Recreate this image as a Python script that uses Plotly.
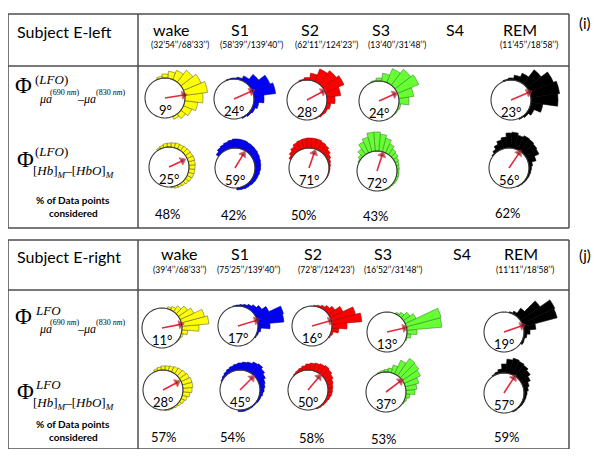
import plotly.graph_objects as go

# page body has an 8px margin, so the figure is drawn 8px in from the window edge
PAGE_W, PAGE_H = 601, 457
PAD = 8
W, H = PAGE_W - 2 * PAD, PAGE_H - 2 * PAD

# ---- data -------------------------------------------------------------
stages = ["wake", "S1", "S2", "S3", "S4", "REM"]
durations_left = ["(32’54’’/68’33’’)", "(58’39’’/139’40’’)", "(62’11’’/124’23’’)",
                  "(13’40’’/31’48’’)", "", "(11’45’’/18’58’’)"]
durations_right = ["(39’4’’/68’33’’)", "(75’25’’/139’40’’)", "(72’8’’/124’23’)",
                   "(16’52’’/31’48’’)", "", "(11’11’’/18’58’’)"]

plot_stages = ["wake", "S1", "S2", "S3", "REM"]   # S4 has no data
stage_colors = ["#ffff00", "#0000ff", "#ff0000", "#66ff33", "#000000"]
edge_colors = ["#6a6a40", "#00008b", "#a00000", "#3d8a2a", "#000000"]

# bin centres (deg, counter-clockwise from east)
theta_15 = [-60, -45, -30, -15, 0, 15, 30, 45, 60, 75, 90, 105]
theta_10 = [-90, -80, -70, -60, -50, -40, -30, -20, -10, 0, 10, 20, 30,
            40, 50, 60, 70, 80, 90, 100, 110, 120, 130, 140, 150]

# bar length outside the unit circle
left_mua_wake = [0.15, 0.3, 0.45, 0.65, 0.9, 1.15, 0.95, 0.75, 0.5, 0.35, 0.2, 0.1]
left_mua_s1 = [0.05, 0.1, 0.15, 0.25, 0.5, 1.1, 0.95, 0.55, 0.25, 0.1, 0.05, 0.03]
left_mua_s2 = [0.03, 0.08, 0.12, 0.2, 0.4, 0.7, 1.0, 0.85, 0.68, 0.35, 0.12, 0.05]
left_mua_s3 = [0.0, 0.02, 0.05, 0.1, 0.5, 0.75, 1.15, 1.0, 0.75, 0.4, 0.15, 0.05]
left_mua_rem = [0.05, 0.1, 0.25, 0.6, 1.35, 1.45, 1.3, 0.9, 0.45, 0.25, 0.1, 0.05]

left_hb_wake = [0, 0.05, 0.1, 0.12, 0.15, 0.2, 0.25, 0.28, 0.3, 0.3, 0.32, 0.33, 0.3,
                0.3, 0.28, 0.25, 0.25, 0.22, 0.2, 0.18, 0.12, 0.08, 0, 0, 0]
left_hb_s1 = [0, 0.1, 0.12, 0.15, 0.15, 0.18, 0.2, 0.22, 0.25, 0.28, 0.3, 0.32, 0.35,
              0.38, 0.4, 0.42, 0.45, 0.45, 0.45, 0.4, 0.35, 0.3, 0.25, 0.15, 0]
left_hb_s2 = [0, 0, 0, 0, 0, 0, 0.02, 0.03, 0.04, 0.05, 0.08, 0.12, 0.2,
              0.3, 0.4, 0.45, 0.5, 0.5, 0.5, 0.48, 0.45, 0.4, 0.3, 0.2, 0.1]
left_hb_s3 = [0, 0, 0.03, 0.05, 0.05, 0.06, 0.08, 0.1, 0.1, 0.1, 0.12, 0.15, 0.2,
              0.28, 0.35, 0.5, 0.7, 0.85, 0.95, 0.95, 0.75, 0.6, 0.35, 0.15, 0.05]
left_hb_rem = [0, 0, 0, 0.03, 0.04, 0.05, 0.06, 0.08, 0.1, 0.12, 0.18, 0.4, 0.65,
               0.7, 0.75, 0.78, 0.7, 0.8, 0.75, 0.55, 0.45, 0.3, 0.15, 0.05, 0]

right_mua_wake = [0, 0, 0, 0, 0, 0.03, 0.05, 0.1, 0.3, 0.85, 1.35, 1.2, 0.75,
                  0.55, 0.35, 0.2, 0.1, 0, 0, 0, 0, 0, 0, 0, 0]
right_mua_s1 = [0, 0, 0, 0, 0, 0, 0.05, 0.08, 0.15, 0.6, 1.3, 1.35, 0.7,
                0.45, 0.3, 0.2, 0.12, 0.08, 0.05, 0.03, 0, 0, 0, 0, 0]
right_mua_s2 = [0, 0, 0, 0, 0, 0, 0.05, 0.1, 0.35, 0.75, 1.5, 1.25, 0.7,
                0.4, 0.25, 0.15, 0.08, 0.04, 0, 0, 0, 0, 0, 0, 0]
right_mua_s3 = [0, 0, 0, 0, 0, 0, 0, 0.05, 0.2, 0.5, 1.75, 1.8, 0.6,
                0.4, 0.2, 0.08, 0, 0, 0, 0, 0, 0, 0, 0, 0]
right_mua_rem = [0, 0, 0, 0, 0, 0, 0.1, 0.08, 0.15, 0.3, 0.6, 1.75, 1.8,
                 1.2, 0.45, 0.15, 0.05, 0, 0, 0, 0, 0, 0, 0, 0]

right_hb_wake = [0, 0.04, 0.05, 0.05, 0.08, 0.12, 0.18, 0.25, 0.35, 0.45, 0.5, 0.5, 0.45,
                 0.4, 0.35, 0.3, 0.25, 0.22, 0.2, 0.15, 0.1, 0, 0, 0, 0]
right_hb_s1 = [0.08, 0.08, 0.06, 0.05, 0.05, 0.05, 0.08, 0.1, 0.15, 0.2, 0.25, 0.3, 0.4,
               0.5, 0.6, 0.55, 0.45, 0.4, 0.35, 0.3, 0.25, 0.2, 0.15, 0.1, 0.05]
right_hb_s2 = [0, 0, 0, 0.05, 0.06, 0.08, 0.1, 0.15, 0.2, 0.22, 0.25, 0.3, 0.38,
               0.45, 0.5, 0.45, 0.4, 0.35, 0.3, 0.22, 0.15, 0.1, 0.05, 0, 0]
right_hb_s3 = [0, 0, 0, 0, 0, 0, 0.05, 0.1, 0.2, 0.45, 0.55, 0.7, 0.9,
               1.0, 1.05, 0.75, 0.4, 0.2, 0.12, 0.08, 0.05, 0, 0, 0, 0]
right_hb_rem = [0, 0, 0, 0.05, 0.05, 0.06, 0.08, 0.1, 0.12, 0.15, 0.22, 0.3, 0.45,
                0.6, 0.7, 0.75, 0.8, 0.7, 0.45, 0.2, 0.1, 0.05, 0, 0, 0]

# mean phase angle (deg) and resultant length
left_mua_angle = [9, 24, 28, 24, 23]
left_hb_angle = [25, 59, 71, 72, 56]
right_mua_angle = [11, 17, 16, 13, 19]
right_hb_angle = [28, 45, 50, 37, 57]
left_mua_len = [0.95, 0.95, 0.9, 0.85, 0.95]
left_hb_len = [0.75, 0.8, 0.8, 0.85, 0.9]
right_mua_len = [0.95, 0.95, 0.95, 0.9, 0.95]
right_hb_len = [0.8, 0.85, 0.85, 0.9, 0.9]

left_percent = [48, 42, 50, 43, 62]
right_percent = [57, 54, 58, 53, 59]

# ---- layout helpers ----------------------------------------------------
SANS = "Lato, Open Sans, sans-serif"
SERIF = "Liberation Serif, Times New Roman, serif"
R_PX = 20        # radius of unit circle in pixels


def px(x):
    # window pixel -> paper fraction
    return (x - PAD) / W


def py(y):
    return 1 - (y - PAD) / H


fig = go.Figure()
annotations = []
shapes = []


def text(x, y, s, size=12, family=SANS, color="black", xanchor="center"):
    annotations.append(dict(x=px(x), y=py(y), xref="paper", yref="paper", text=s,
                            showarrow=False, xanchor=xanchor, yanchor="middle",
                            font=dict(size=size, family=family, color=color)))


def hline(x0, x1, y):
    shapes.append(dict(type="line", xref="paper", yref="paper", x0=px(x0), x1=px(x1),
                       y0=py(y), y1=py(y), line=dict(color="#4d4d4d", width=1.5)))


def vline(x, y0, y1):
    shapes.append(dict(type="line", xref="paper", yref="paper", x0=px(x), x1=px(x),
                       y0=py(y0), y1=py(y1), line=dict(color="#4d4d4d", width=1.5)))


rows = [
    (theta_15, 15, [left_mua_wake, left_mua_s1, left_mua_s2, left_mua_s3, left_mua_rem],
     left_mua_angle, left_mua_len, 2.9,
     [(165, 98), (234, 99), (307, 100), (379, 101), (511, 100)]),
    (theta_10, 10, [left_hb_wake, left_hb_s1, left_hb_s2, left_hb_s3, left_hb_rem],
     left_hb_angle, left_hb_len, 2.9,
     [(169, 167), (235, 168), (309, 168), (377, 171), (509, 168)]),
    (theta_10, 10, [right_mua_wake, right_mua_s1, right_mua_s2, right_mua_s3, right_mua_rem],
     right_mua_angle, right_mua_len, 2.9,
     [(162, 328), (238, 326), (312, 326), (387, 332), (504, 332)]),
    (theta_10, 10, [right_hb_wake, right_hb_s1, right_hb_s2, right_hb_s3, right_hb_rem],
     right_hb_angle, right_hb_len, 2.2,
     [(163, 390), (240, 390), (308, 390), (386, 392), (504, 393)]),
]

circle_theta = list(range(0, 361, 5))
k = 0
for theta, width, bars, angles, lengths, r_max, centers in rows:
    half = r_max * R_PX
    for i, stage in enumerate(plot_stages):
        k += 1
        name = "polar" if k == 1 else f"polar{k}"
        cx, cy = centers[i]
        fig.add_trace(go.Barpolar(
            theta=theta, r=bars[i], base=1, width=width,
            marker=dict(color=stage_colors[i], line=dict(color=edge_colors[i], width=0.6)),
            subplot=name, showlegend=False, hoverinfo="skip",
        ))
        fig.add_trace(go.Scatterpolar(
            theta=circle_theta, r=[1] * len(circle_theta), mode="lines",
            line=dict(color="#3a3a3a", width=1.1), subplot=name,
            showlegend=False, hoverinfo="skip",
        ))
        fig.add_trace(go.Scatterpolar(
            theta=[angles[i], angles[i]], r=[0, lengths[i]], mode="lines+markers",
            line=dict(color="#e8283c", width=1.6),
            marker=dict(symbol="triangle-up", size=[0, 7], color="#6b0f1a",
                        angleref="previous"),
            subplot=name, showlegend=False, hoverinfo="skip",
        ))
        fig.layout[name] = dict(
            domain=dict(x=[px(cx - half), px(cx + half)], y=[py(cy + half), py(cy - half)]),
            bgcolor="rgba(0,0,0,0)",
            radialaxis=dict(range=[0, r_max], visible=False),
            angularaxis=dict(visible=False, rotation=0, direction="counterclockwise"),
        )
        text(cx, cy + 12, f"{angles[i]}°", size=13)

# ---- tables --------------------------------------------------------------
for top, sep, bottom in [(14, 66, 228), (240, 290, 449)]:
    hline(8, 569, top)
    hline(8, 569, sep)
    hline(8, 569, bottom)
    vline(8, top, bottom)
    vline(138, top, bottom)
    vline(569, top, bottom)

text(15, 31, "Subject E-left", size=16, xanchor="left")
text(15, 256, "Subject E-right", size=16, xanchor="left")
text(585, 23, "(i)", size=15)
text(585, 255, "(j)", size=15)

title_x_left = [171, 240, 310, 381, 455, 520]
sub_x_left = [180, 251, 326, 397, 455, 529]
title_x_right = [179, 240, 313, 383, 462, 521]
sub_x_right = [179, 248, 326, 393, 462, 525]
for j, st in enumerate(stages):
    text(title_x_left[j], 30, st, size=16)
    text(title_x_right[j], 254, st, size=16)
    if durations_left[j]:
        text(sub_x_left[j], 45, durations_left[j], size=8.5)
    if durations_right[j]:
        text(sub_x_right[j], 270, durations_right[j], size=8.5)


# row labels
def mua_label(y, sup):
    text(13, y, "Φ", size=23, family=SERIF, xanchor="left")
    text(33, y - 6, sup, size=13, family=SERIF, xanchor="left")
    text(37, y + 13, "<i>μa</i>", size=12, family=SERIF, xanchor="left")
    text(48, y + 6, "(690 <i>nm</i>)", size=8, family=SERIF, xanchor="left")
    text(75, y + 13, "–<i>μa</i>", size=12, family=SERIF, xanchor="left")
    text(94, y + 6, "(830 <i>nm</i>)", size=8, family=SERIF, xanchor="left")


def hb_label(y, sup):
    text(15, y, "Φ", size=23, family=SERIF, xanchor="left")
    text(33, y - 7, sup, size=13, family=SERIF, xanchor="left")
    text(31, y + 12, "[<i>Hb</i>]<sub><i>M</i></sub>–[<i>HbO</i>]<sub><i>M</i></sub>",
         size=13, family=SERIF, xanchor="left")


mua_label(86, "(<i>LFO</i>)")
hb_label(159, "(<i>LFO</i>)")
mua_label(316, "<i>LFO</i>")
hb_label(391, "<i>LFO</i>")

for y0 in [200, 424]:
    text(73, y0, "<b>% of Data points</b>", size=10)
    text(73, y0 + 13, "<b>considered</b>", size=10)

pct_left_pos = [(168, 214), (234, 215), (304, 215), (376, 216), (508, 213)]
pct_right_pos = [(164, 437), (233, 437), (312, 438), (384, 439), (507, 437)]
for i in range(5):
    text(*pct_left_pos[i], f"{left_percent[i]}%", size=13)
    text(*pct_right_pos[i], f"{right_percent[i]}%", size=13)

fig.update_layout(
    width=W, height=H, margin=dict(l=0, r=0, t=0, b=0),
    paper_bgcolor="white", plot_bgcolor="white",
    annotations=annotations, shapes=shapes, showlegend=False,
)

fig.write_html("out.html")
